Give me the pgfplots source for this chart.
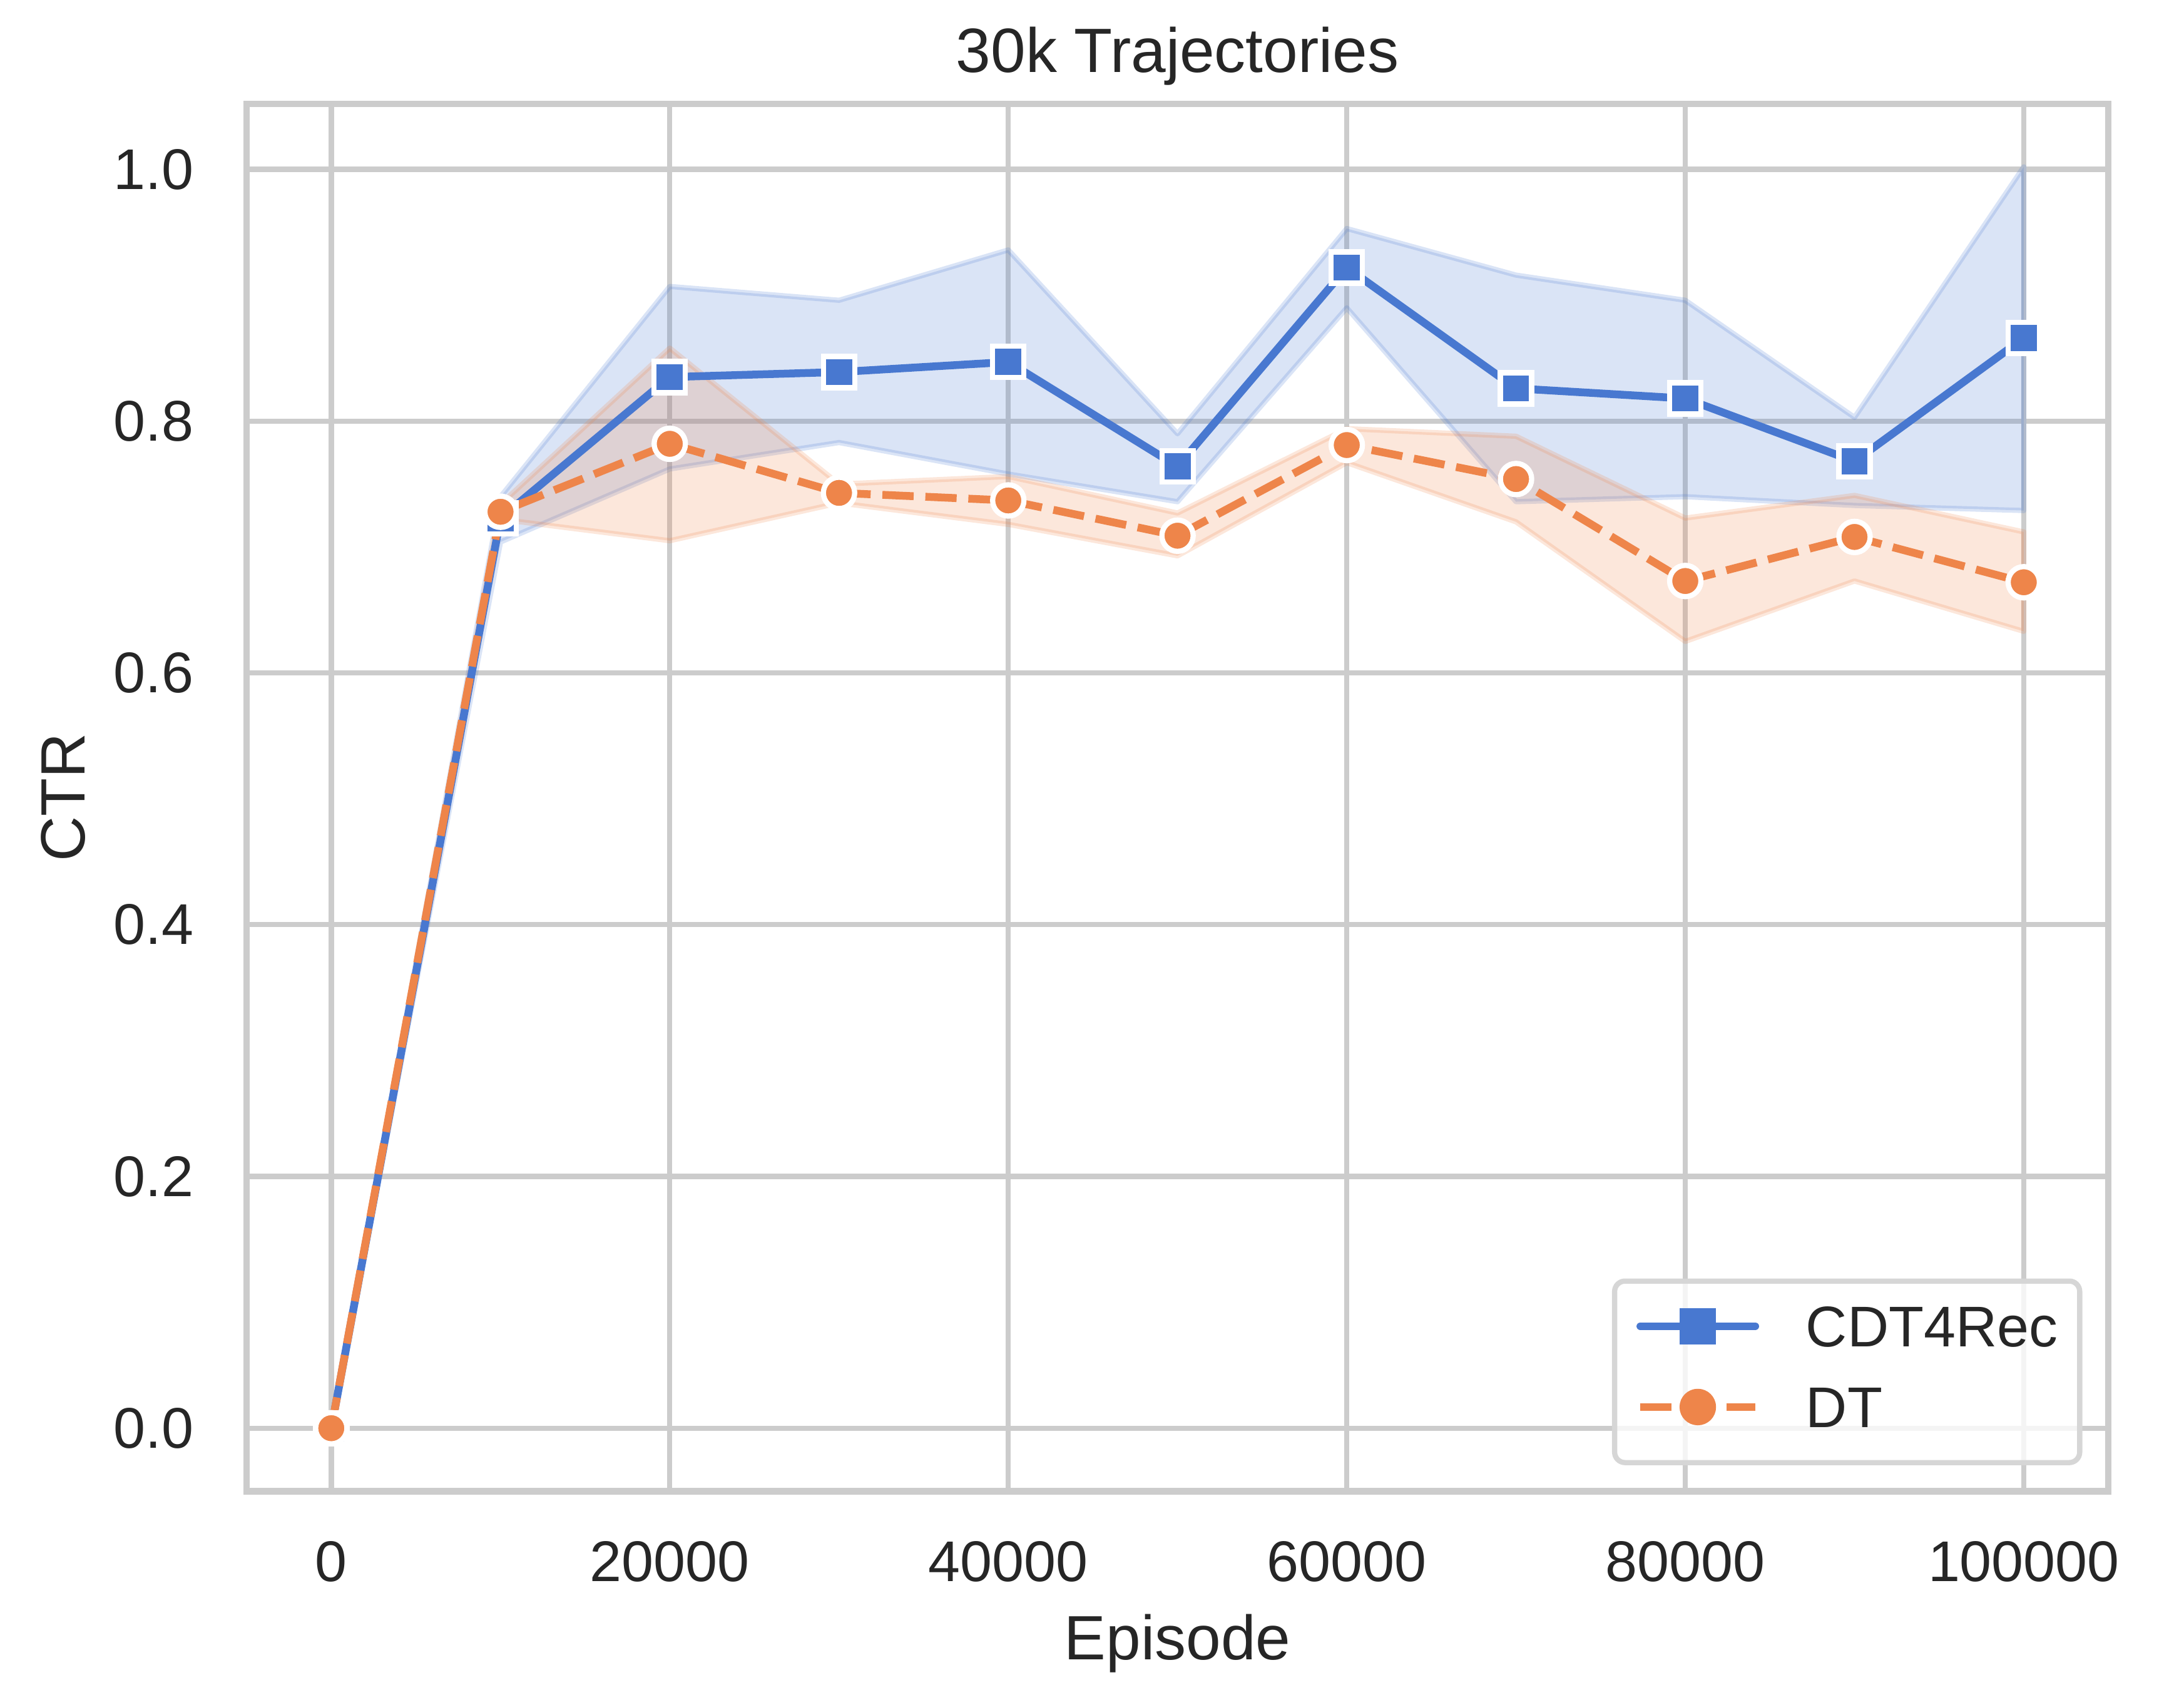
\documentclass[border=0pt]{standalone}
\usepackage{fontspec}
\setmainfont{Liberation Sans}
\usepackage{pgfplots}
\pgfplotsset{compat=1.18}
\definecolor{sbblue}{HTML}{4878D0}
\definecolor{sborange}{HTML}{EE854A}
\definecolor{gridgray}{HTML}{CCCCCC}
\definecolor{txt}{HTML}{262626}
\definecolor{legedge}{HTML}{D6D6D6}
\begin{document}
\begin{tikzpicture}
\useasboundingbox (-94.6pt,-76pt) rectangle (743pt,571.8pt);
\begin{axis}[
  at={(0pt,0pt)}, anchor=south west,
  scale only axis, width=714pt, height=532pt,
  xmin=-5000, xmax=105000, ymin=-0.0501, ymax=1.0521,
  xtick={0,20000,40000,60000,80000,100000},
  xticklabels={0,20000,40000,60000,80000,100000},
  ytick={0,0.2,0.4,0.6,0.8,1.0},
  yticklabels={0.0,0.2,0.4,0.6,0.8,1.0},
  scaled x ticks=false, scaled y ticks=false,
  major tick length=0pt, tick style={draw=none},
  grid=major, grid style={draw=gridgray, line width=2pt},
  axis line style={draw=gridgray, line width=2.5pt},
  xticklabel style={anchor=north, inner sep=0pt, yshift=-19pt, font=\fontsize{22}{26}\selectfont, text=txt},
  yticklabel style={anchor=east, inner sep=0pt, xshift=-20.2pt, font=\fontsize{22}{26}\selectfont, text=txt},
  xlabel={Episode}, ylabel={CTR}, title={30k Trajectories},
  xlabel style={at={(axis description cs:0.5,-0.1213)}, anchor=base, inner sep=0pt, font=\fontsize{24}{28}\selectfont, text=txt},
  ylabel style={at={(axis description cs:-0.0862,0.5)}, anchor=south, inner sep=0pt, font=\fontsize{24}{28}\selectfont, text=txt},
  every axis title shift=0pt,
  title style={at={(axis description cs:0.5,1.0226)}, anchor=base, inner sep=0pt, text depth=0pt, font=\fontsize{24}{28}\selectfont, text=txt},
  legend style={at={(axis description cs:1,0)}, anchor=south east, xshift=-10pt, yshift=10pt,
    draw=legedge, line width=2pt, rounded corners=4pt, fill=white, fill opacity=0.8, text opacity=1, draw opacity=1,
    inner xsep=8.4pt, inner ysep=9.4pt, row sep=11.2pt, column sep=18pt,
    font=\fontsize{22}{26}\selectfont, text=txt,
    nodes={inner sep=0pt, text height=15.8pt, text depth=4pt, anchor=base west}},
]
% CDT4Rec band
\addplot[forget plot, fill=sbblue, fill opacity=0.2, draw=sbblue, draw opacity=0.2, line width=2pt, line join=round]
 coordinates {(0,0) (10000,0.740) (20000,0.907) (30000,0.896) (40000,0.936) (50000,0.790) (60000,0.953) (70000,0.916) (80000,0.896) (90000,0.803) (100000,1.002)
 (100000,0.729) (90000,0.733) (80000,0.740) (70000,0.736) (60000,0.890) (50000,0.736) (40000,0.758) (30000,0.783) (20000,0.762) (10000,0.704) (0,0)} -- cycle;
% DT band
\addplot[forget plot, fill=sborange, fill opacity=0.2, draw=sborange, draw opacity=0.2, line width=2pt, line join=round]
 coordinates {(0,0) (10000,0.734) (20000,0.858) (30000,0.750) (40000,0.756) (50000,0.727) (60000,0.794) (70000,0.788) (80000,0.723) (90000,0.741) (100000,0.712)
 (100000,0.633) (90000,0.673) (80000,0.625) (70000,0.720) (60000,0.767) (50000,0.693) (40000,0.718) (30000,0.735) (20000,0.705) (10000,0.722) (0,0)} -- cycle;
% CDT4Rec mean
\addplot[color=sbblue, line width=3pt, line cap=round, line join=round,
  mark=square*, mark size=6pt, mark options={fill=sbblue, draw=white, line width=2pt, solid, line join=miter},
  legend image code/.code={\draw[sharp corners, sbblue, fill opacity=1, line width=3pt, line cap=round,
     mark=square*, mark size=6pt, mark options={fill=sbblue, draw=sbblue, line width=2pt, solid, line join=miter},
     mark repeat=2, mark phase=2] plot coordinates {(0pt,7.9pt) (22pt,7.9pt) (44pt,7.9pt)};}]
 coordinates {(0,0) (10000,0.723) (20000,0.835) (30000,0.839) (40000,0.847) (50000,0.764) (60000,0.922) (70000,0.826) (80000,0.818) (90000,0.768) (100000,0.866)};
\addlegendentry{CDT4Rec}
% DT mean
\addplot[color=sborange, line width=3pt, line cap=butt, line join=round, dash pattern=on 12pt off 4.5pt,
  mark=*, mark size=6pt, mark options={fill=sborange, draw=white, line width=2pt, solid},
  legend image code/.code={\draw[sharp corners, sborange, fill opacity=1, line width=3pt, line cap=butt, dash pattern=on 12pt off 4.5pt,
     mark=*, mark size=6pt, mark options={fill=sborange, draw=sborange, line width=2pt, solid},
     mark repeat=2, mark phase=2] plot coordinates {(0pt,7.9pt) (22pt,7.9pt) (44pt,7.9pt)};}]
 coordinates {(0,0) (10000,0.728) (20000,0.782) (30000,0.743) (40000,0.737) (50000,0.709) (60000,0.781) (70000,0.754) (80000,0.673) (90000,0.708) (100000,0.672)};
\addlegendentry{DT}
\end{axis}
\end{tikzpicture}
\end{document}
